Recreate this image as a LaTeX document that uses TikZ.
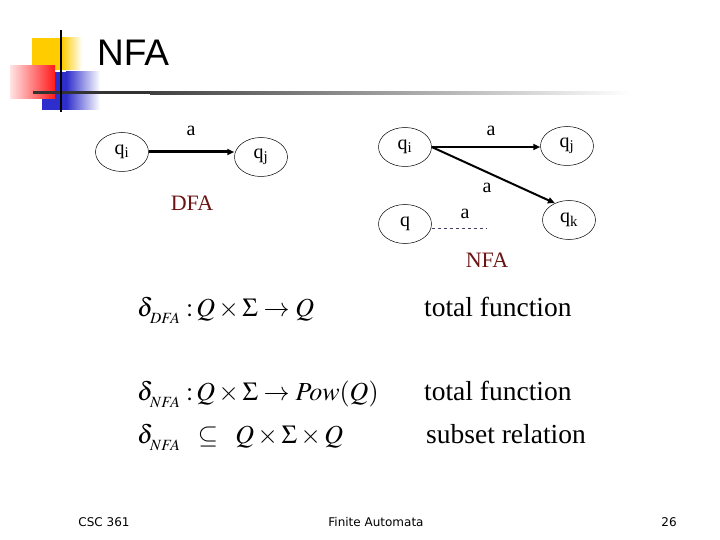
\documentclass[tikz,border=0pt]{standalone}
\usepackage{mathptmx}
\usepackage[no-math]{fontspec}
\setmainfont{Liberation Serif}
\newfontfamily\titlefont{Liberation Sans}
\newfontfamily\footfont{DejaVu Sans}
\usetikzlibrary{arrows.meta,shapes.geometric}
\definecolor{logoyellow}{HTML}{FFCC00}
\definecolor{logoblue}{HTML}{2E2ECC}
\definecolor{logored}{HTML}{FF1A1A}
\definecolor{logopink}{HTML}{FFE4E4}
\definecolor{labelred}{HTML}{6B1414}
\definecolor{dashgray}{HTML}{404060}
\newcommand{\dsub}[1]{_{\lower4pt\hbox{$\scriptscriptstyle #1$}}}
\begin{document}
\begin{tikzpicture}[x=1pt,y=-1pt,
  state/.style={draw=black,line width=0.5pt,ellipse,minimum width=53pt,minimum height=39pt,inner sep=0pt,font=\fontsize{20}{22}\selectfont},
  lbl/.style={font=\fontsize{20}{22}\selectfont,inner sep=0pt},
  autlbl/.style={font=\fontsize{22}{24}\selectfont,text=labelred,inner sep=0pt},
  thickarrow/.style={line width=3pt,-{Triangle[length=7pt,width=6pt]}},
  nfaarrow/.style={line width=2pt,-{Triangle[length=7pt,width=6pt]}},
  formula/.style={font=\fontsize{26}{30}\selectfont,anchor=base west,inner sep=0pt},
  textcol/.style={font=\fontsize{27.5}{30}\selectfont,anchor=base west,inner sep=0pt},
  foot/.style={font=\footfont\fontsize{12}{14}\selectfont,inner sep=0pt}]
\useasboundingbox (0,0) rectangle (720,540);
% logo
\fill[logoyellow] (32,38) rectangle (62,70);
\shade[left color=logoyellow,right color=white] (62,38) rectangle (82,70);
\fill[logoblue] (42,72) rectangle (66,110);
\shade[left color=logoblue,right color=white] (66,72) rectangle (100,110);
\shade[left color=logopink,right color=logored] (10,66) rectangle (55,99);
\fill[black!80] (33,91.5) rectangle (150,94.5);
\shade[left color=black!75,right color=white] (150,91.5) rectangle (630,94.5);
\draw[line width=2pt] (61,30) -- (61,112);
\node[font=\titlefont\fontsize{37}{40}\selectfont,anchor=base west,inner sep=0pt] (title) at (97,66) {NFA};
% DFA
\node[state] (qiD) at (122,152) {q\textsubscript{i}};
\node[state] (qjD) at (261,157) {q\textsubscript{j}};
\draw[thickarrow] (qiD.east) -- (qiD.east -| qjD.west);
\node[lbl] (aD) at (191,131) {a};
\node[autlbl] (dfa) at (192,203) {DFA};
% NFA
\node[state] (qiN) at (405,147) {q\textsubscript{i}};
\node[state] (qjN) at (567,146) {q\textsubscript{j}};
\node[state] (qkN) at (569,220) {q\textsubscript{k}};
\node[state] (qN) at (405,224) {q};
\draw[nfaarrow] (qiN.east) -- (qiN.east -| qjN.west);
\draw[nfaarrow] (qiN.east) -- (qkN.130);
\coordinate (dashend) at (486,228);
\draw[dashgray,dashed,line width=0.8pt] (qN.east |- dashend) -- (dashend);
\node[lbl] (a1) at (491,131) {a};
\node[lbl] (a2) at (487,188) {a};
\node[lbl] (a3) at (465,214) {a};
\node[autlbl] (nfa) at (487,260) {NFA};
% formulas
\node[formula] (f1) at (137,316) {$\delta\dsub{DFA}\;{:}\,Q\times\Sigma\to Q$};
\node[textcol] (t1) at (424,316) {total function};
\node[formula] (f2) at (137,400) {$\delta\dsub{NFA}\;{:}\,Q\times\Sigma\to Pow(Q)$};
\node[textcol] (t2) at (424,400) {total function};
\node[formula] (f3) at (137,443) {$\delta\dsub{NFA}\;\;\subseteq\;\;Q\times\Sigma\times Q$};
\node[textcol] (t3) at (426,443) {subset relation};
% footer
\node[foot] (fl) at (104,522) {CSC 361};
\node[foot] (fc) at (376,522) {Finite Automata};
\node[foot] (fr) at (669,522) {26};
\end{tikzpicture}
\end{document}
